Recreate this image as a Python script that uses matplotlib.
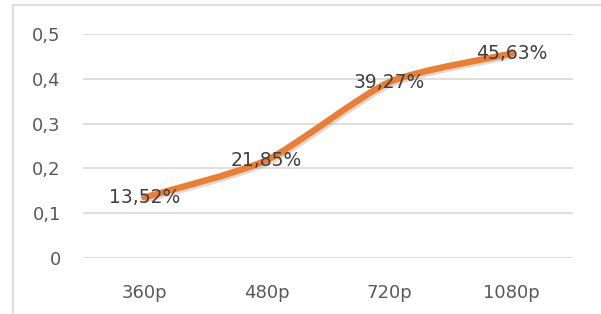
import numpy as np
import matplotlib.pyplot as plt
from matplotlib.path import Path
from matplotlib.patches import PathPatch
from matplotlib.lines import Line2D
import matplotlib.patheffects as pe

categories = ["360p", "480p", "720p", "1080p"]
values = [0.1352, 0.2185, 0.3927, 0.4563]
labels = ["13,52%", "21,85%", "39,27%", "45,63%"]
yticks = [0, 0.1, 0.2, 0.3, 0.4, 0.5]
yticklabels = ["0", "0,1", "0,2", "0,3", "0,4", "0,5"]

plt.rcParams['font.family'] = ['DejaVu Sans']

W, H = 601, 314
fig = plt.figure(figsize=(W/100, H/100), dpi=100)
ax = fig.add_axes([83/W, 1-258/H, 490/W, 224/H])

# Excel-style smoothed line (cubic Bezier segments through the points)
tension = 0.11
x = np.arange(len(values), dtype=float)
y = np.array(values)
pts = np.column_stack([x, y])
ext = np.vstack([pts[0], pts, pts[-1]])
verts = [pts[0]]
codes = [Path.MOVETO]
for i in range(len(pts) - 1):
    p_prev, p0, p1, p_next = ext[i], ext[i+1], ext[i+2], ext[i+3]
    c1 = p0 + (p1 - p_prev) * tension
    c2 = p1 - (p_next - p0) * tension
    verts += [c1, c2, p1]
    codes += [Path.CURVE4] * 3
patch = PathPatch(Path(verts, codes), facecolor="none", edgecolor="#ED7D31",
                  linewidth=4.6, capstyle="round", joinstyle="round", zorder=3,
                  path_effects=[pe.Stroke(offset=(1.5, -1.5), linewidth=4.6,
                                          foreground="#999999", alpha=0.35),
                                pe.Normal()])
ax.add_patch(patch)

for xi, yi, lab in zip(x, y, labels):
    ax.text(xi, yi, lab, ha="center", va="center", fontsize=13.5, color="#404040", zorder=4)

ax.set_xlim(-0.5, len(categories) - 0.5)
ax.set_ylim(0, 0.5)
ax.set_yticks(yticks)
ax.set_yticklabels(yticklabels)
ax.set_xticks(x)
ax.set_xticklabels(categories)
ax.tick_params(axis="both", length=0, labelsize=13, labelcolor="#595959")
ax.tick_params(axis="y", pad=16)
ax.tick_params(axis="x", pad=19)
ax.grid(axis="y", color="#D9D9D9", linewidth=1.2)
ax.set_axisbelow(True)
for s in ax.spines.values():
    s.set_visible(False)

# chart area border (cropped: only left and top edges visible)
fig.add_artist(Line2D([13/W, 13/W], [0, 1-5/H], color="#D9D9D9", linewidth=1.2))
fig.add_artist(Line2D([13/W, 1], [1-5/H, 1-5/H], color="#D9D9D9", linewidth=1.2))

plt.savefig("out.png", dpi=100)
plt.close()
